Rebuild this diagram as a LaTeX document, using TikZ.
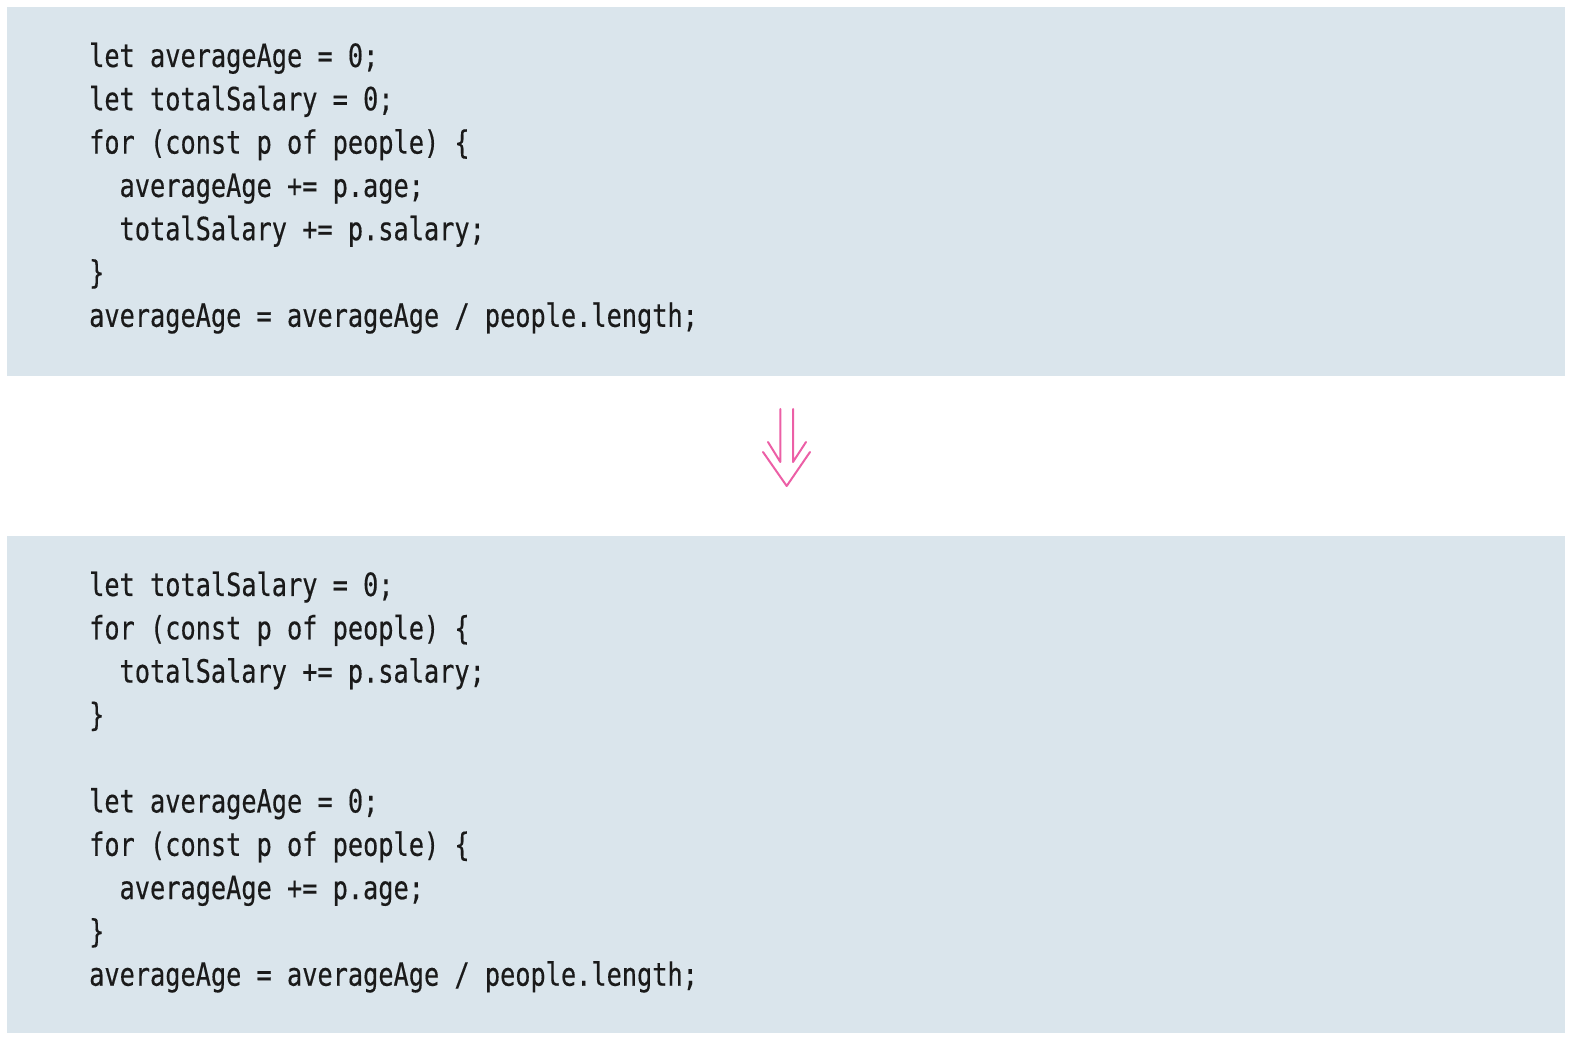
\documentclass[tikz,border=0pt]{standalone}
\usepackage{fontspec}
\newfontfamily\codefont[FakeStretch=0.79,FakeBold=0.4]{DejaVu Sans Mono}
\definecolor{boxbg}{HTML}{DAE5EC}
\definecolor{codetxt}{HTML}{1A1A1A}
\definecolor{arrowpink}{HTML}{EC5FA6}
\begin{document}
\begin{tikzpicture}[x=1pt,y=1pt,
  codebox/.style={fill=boxbg,draw=none,inner sep=0pt,anchor=south west},
  codeline/.style={anchor=base west,inner sep=0pt,text=codetxt,font=\codefont\fontsize{32}{38}\selectfont},
  pinkline/.style={draw=arrowpink,line width=2pt,line cap=round,line join=round}]
\useasboundingbox (0,0) rectangle (1571,1041);
% boxes
\node[codebox,minimum width=1558pt,minimum height=369pt] (top) at (7,665) {};
\node[codebox,minimum width=1558pt,minimum height=497pt] (bottom) at (7,8) {};
% top code
\node[codeline] (t1) at (89,974) {let averageAge = 0;};
\node[codeline] (t2) at (89,930.7) {let totalSalary = 0;};
\node[codeline] (t3) at (89,887.4) {for (const p of people) \{};
\node[codeline] (t4) at (119.4,844.1) {averageAge += p.age;};
\node[codeline] (t5) at (119.4,800.8) {totalSalary += p.salary;};
\node[codeline] (t6) at (89,757.5) {\}};
\node[codeline] (t7) at (89,714.2) {averageAge = averageAge / people.length;};
% bottom code
\node[codeline] (b1) at (89,445) {let totalSalary = 0;};
\node[codeline] (b2) at (89,401.7) {for (const p of people) \{};
\node[codeline] (b3) at (119.4,358.4) {totalSalary += p.salary;};
\node[codeline] (b4) at (89,315.1) {\}};
\node[codeline] (b6) at (89,228.5) {let averageAge = 0;};
\node[codeline] (b7) at (89,185.2) {for (const p of people) \{};
\node[codeline] (b8) at (119.4,141.9) {averageAge += p.age;};
\node[codeline] (b9) at (89,98.6) {\}};
\node[codeline] (b10) at (89,55.3) {averageAge = averageAge / people.length;};
% arrow
\coordinate (la) at (780.3,632);
\coordinate (lb) at (780.3,579);
\coordinate (ra) at (793,632);
\coordinate (rb) at (793,579);
\coordinate (il) at (768,599);
\coordinate (ir) at (806,599);
\coordinate (ol) at (763,589);
\coordinate (tip) at (786.7,555);
\coordinate (or) at (810,589);
\draw[pinkline] (la) -- (lb) -- (il);
\draw[pinkline] (ra) -- (rb) -- (ir);
\draw[pinkline] (ol) -- (tip) -- (or);
\end{tikzpicture}
\end{document}
